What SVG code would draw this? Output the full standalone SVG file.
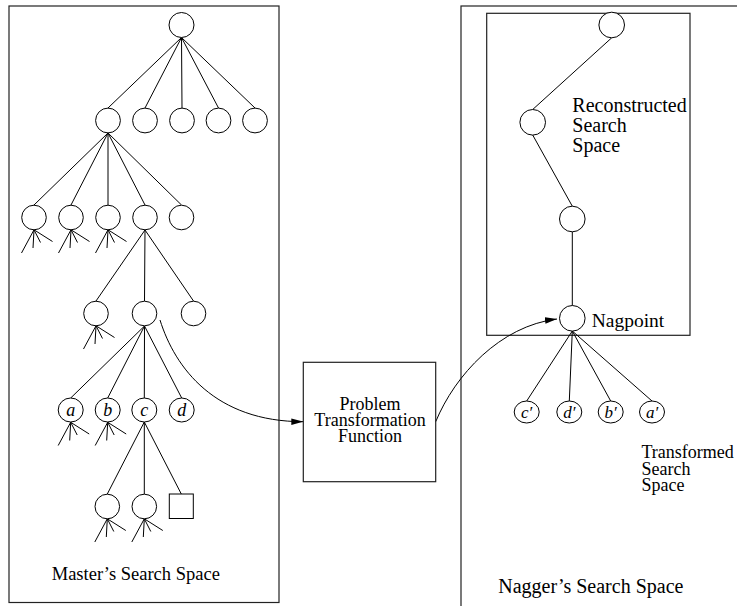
<svg xmlns="http://www.w3.org/2000/svg" width="737" height="606" viewBox="0 0 737 606">
<style>
.n{fill:#fff;stroke:#000;stroke-width:1}
.e{fill:none;stroke:#000;stroke-width:1}
.box{fill:none;stroke:#222;stroke-width:1.2}
.t{font-family:"Liberation Serif","Times New Roman",serif;fill:#000}
.i{font-family:"Liberation Serif","Times New Roman",serif;font-style:italic;fill:#000;text-anchor:middle}
</style>
<defs>
<marker id="ah" markerWidth="12" markerHeight="8" refX="12" refY="4" orient="auto" markerUnits="userSpaceOnUse">
<path d="M0,0.8 L12,4 L0,7.2 Z" fill="#000"/>
</marker>
<g id="fan"><path class="e" d="M0,12.3 L-12.5,35.5 M0,12.3 L-1,30.5 M0,12.3 L6.5,25 M0,12.3 L18.5,24"/></g>
</defs>
<rect id="master-space" class="box" x="9" y="6" width="270" height="596.5"/>
<rect id="nagger-space" class="box" x="461" y="6" width="300" height="620"/>
<rect id="reconstructed-space" class="box" x="486.7" y="13.3" width="203.3" height="322"/>
<g id="connectors">
<path class="e" d="M181.5,37.5 L108,108 M181.5,37.5 L145,108 M181.5,37.5 L182,108 M181.5,37.5 L218.5,108 M181.5,37.5 L255,108"/>
<path class="e" d="M108,133 L34,205 M108,133 L71,205 M108,133 L108,205 M108,133 L145,205 M108,133 L181.5,205"/>
<path class="e" d="M145,230 L96,301 M145,230 L144.5,301 M145,230 L193.5,301"/>
<path class="e" d="M144.5,326 L70.7,398 M144.5,326 L107.7,398 M144.5,326 L144.3,398 M144.5,326 L181.7,398"/>
<path class="e" d="M144.3,422 L107.3,494 M144.3,422 L144.3,494 M144.3,422 L181.3,494"/>
<use href="#fan" x="34" y="217.5"/>
<use href="#fan" x="71" y="217.5"/>
<use href="#fan" x="108" y="217.5"/>
<use href="#fan" x="96" y="313.5"/>
<use href="#fan" x="70.7" y="410"/>
<use href="#fan" x="107.7" y="410"/>
<use href="#fan" x="107.3" y="506.5"/>
<use href="#fan" x="144.3" y="506.5"/>
<path class="e" d="M611.7,37.8 L532.7,109.5 M532.7,135 L572.3,206.2 M572.3,231.8 L572.3,305.5"/>
<path class="e" d="M572.3,331 L526.7,401 M572.3,331 L569.3,401 M572.3,331 L610.7,401 M572.3,331 L652,401"/>
<path class="e" d="M160,320 C175,368 215,421.7 303.3,421.7" marker-end="url(#ah)"/>
<path class="e" d="M435.7,421.7 C455,375 500,326 557,319" marker-end="url(#ah)"/>
</g>
<g id="root"><circle class="n" cx="181.5" cy="25" r="12.5"/></g>
<g id="l2-1"><circle class="n" cx="108" cy="120.5" r="12.4"/></g>
<g id="l2-2"><circle class="n" cx="145" cy="120.5" r="12.4"/></g>
<g id="l2-3"><circle class="n" cx="182" cy="120.5" r="12.4"/></g>
<g id="l2-4"><circle class="n" cx="218.5" cy="120.5" r="12.4"/></g>
<g id="l2-5"><circle class="n" cx="255" cy="120.5" r="12.4"/></g>
<g id="l3-1"><circle class="n" cx="34" cy="217.5" r="12.3"/></g>
<g id="l3-2"><circle class="n" cx="71" cy="217.5" r="12.3"/></g>
<g id="l3-3"><circle class="n" cx="108" cy="217.5" r="12.3"/></g>
<g id="l3-4"><circle class="n" cx="145" cy="217.5" r="12.3"/></g>
<g id="l3-5"><circle class="n" cx="181.5" cy="217.5" r="12.3"/></g>
<g id="l4-1"><circle class="n" cx="96" cy="313.5" r="12.3"/></g>
<g id="l4-2"><circle class="n" cx="144.5" cy="313.5" r="12.3"/></g>
<g id="l4-3"><circle class="n" cx="193.5" cy="313.5" r="12.3"/></g>
<g id="node-a"><ellipse class="n" cx="70.7" cy="410" rx="12.5" ry="12"/><text class="i" x="70.7" y="416" font-size="18">a</text></g>
<g id="node-b"><ellipse class="n" cx="107.7" cy="410" rx="12.5" ry="12"/><text class="i" x="107.7" y="416" font-size="18">b</text></g>
<g id="node-c"><ellipse class="n" cx="144.3" cy="410" rx="12.5" ry="12"/><text class="i" x="144.3" y="416" font-size="18">c</text></g>
<g id="node-d"><ellipse class="n" cx="181.7" cy="410" rx="12.5" ry="12"/><text class="i" x="181.7" y="416" font-size="18">d</text></g>
<g id="l6-1"><circle class="n" cx="107.3" cy="506.5" r="12.3"/></g>
<g id="l6-2"><circle class="n" cx="144.3" cy="506.5" r="12.3"/></g>
<g id="l6-goal"><rect class="n" x="169.3" y="494" width="24" height="24.5"/></g>
<g id="master-label"><text class="t" x="51.7" y="580" font-size="18.5">Master’s Search Space</text></g>
<g id="ptf"><rect class="box" x="303.3" y="362.3" width="132.4" height="119.4" fill="#fff"/>
<text class="t" x="370" y="409.5" font-size="18" text-anchor="middle">Problem</text>
<text class="t" x="370" y="426" font-size="18" text-anchor="middle">Transformation</text>
<text class="t" x="370" y="442.2" font-size="18" text-anchor="middle">Function</text></g>
<g id="r-top"><circle class="n" cx="611.7" cy="25" r="12.8"/></g>
<g id="r-2"><circle class="n" cx="532.7" cy="122.3" r="12.8"/></g>
<g id="r-3"><circle class="n" cx="572.3" cy="219" r="12.8"/></g>
<g id="nagpoint"><circle class="n" cx="572.3" cy="318.3" r="12.8"/><text class="t" x="591.7" y="327" font-size="19.5">Nagpoint</text></g>
<g id="reconstructed-label"><text class="t" font-size="20"><tspan x="572.3" y="111.7">Reconstructed</tspan><tspan x="572.3" y="131.5">Search</tspan><tspan x="572.3" y="151.5">Space</tspan></text></g>
<g id="node-c2"><ellipse class="n" cx="526.7" cy="412" rx="12.5" ry="11"/><text class="i" x="526.7" y="417.5" font-size="17">c′</text></g>
<g id="node-d2"><ellipse class="n" cx="569.3" cy="412" rx="12.5" ry="11"/><text class="i" x="569.3" y="417.5" font-size="17">d′</text></g>
<g id="node-b2"><ellipse class="n" cx="610.7" cy="412" rx="12.5" ry="11"/><text class="i" x="610.7" y="417.5" font-size="17">b′</text></g>
<g id="node-a2"><ellipse class="n" cx="652" cy="412" rx="12.5" ry="11"/><text class="i" x="652" y="417.5" font-size="17">a′</text></g>
<g id="transformed-label"><text class="t" font-size="18"><tspan x="641.5" y="458.3">Transformed</tspan><tspan x="641.5" y="474.5">Search</tspan><tspan x="641.5" y="490.5">Space</tspan></text></g>
<g id="nagger-label"><text class="t" x="498.3" y="593.3" font-size="20">Nagger’s Search Space</text></g>
</svg>
